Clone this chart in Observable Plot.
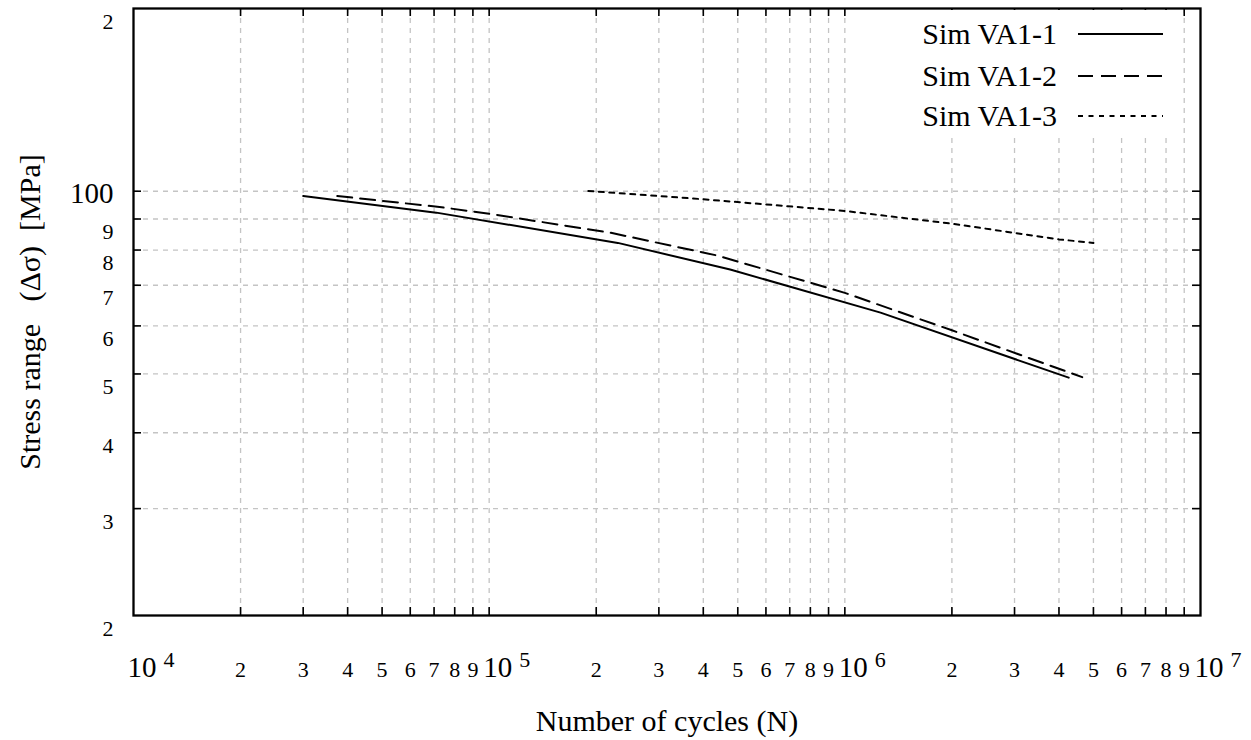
<!DOCTYPE html>
<html>
<head>
<meta charset="utf-8">
<script src="https://cdn.jsdelivr.net/npm/d3@7"></script>
<script src="https://cdn.jsdelivr.net/npm/@observablehq/plot@0.6"></script>
<style>
  html, body { margin: 0; padding: 0; background: #fff; }
  svg { display: block; }
</style>
</head>
<body>
<div id="chart"></div>
<script>
// Simulated S-N curves: number of cycles vs stress range (MPa)
const seriesNames = ["Sim VA1-1", "Sim VA1-2", "Sim VA1-3"];

const va1Cycles = [3.0e4, 7.1e4, 2.3e5, 4.76e5, 1.26e6, 4.26e6];
const va1Stress = [98.2, 92.2, 82.2, 74.3, 63.1, 49.3];

const va2Cycles = [3.74e4, 7.25e4, 1.0e5, 2.2e5, 4.4e5, 1.0e6, 2.0e6, 4.65e6];
const va2Stress = [98.2, 94.2, 91.8, 85.4, 78.3, 68.0, 59.0, 49.4];

const va3Cycles = [1.9e5, 4.0e5, 1.0e6, 2.0e6, 4.0e6, 5.0e6];
const va3Stress = [100.1, 97.0, 92.8, 88.4, 83.3, 82.2];

// Axis ticks (log scales)
const xMinorTicks = [2e4, 3e4, 4e4, 5e4, 6e4, 7e4, 8e4, 9e4,
                     2e5, 3e5, 4e5, 5e5, 6e5, 7e5, 8e5, 9e5,
                     2e6, 3e6, 4e6, 5e6, 6e6, 7e6, 8e6, 9e6];
const xMinorLabels = ["2", "3", "4", "5", "6", "7", "8", "9",
                      "2", "3", "4", "5", "6", "7", "8", "9",
                      "2", "3", "4", "5", "6", "7", "8", "9"];
const xDecadeTicks = [1e4, 1e5, 1e6, 1e7];
const xDecadeExponents = ["4", "5", "6", "7"];
const xGridTicks = [2e4, 3e4, 4e4, 5e4, 6e4, 7e4, 8e4, 9e4, 1e5,
                    2e5, 3e5, 4e5, 5e5, 6e5, 7e5, 8e5, 9e5, 1e6,
                    2e6, 3e6, 4e6, 5e6, 6e6, 7e6, 8e6, 9e6];

const yGridTicks = [30, 40, 50, 60, 70, 80, 90, 100];
const ySmallTicks = [20, 30, 40, 50, 60, 70, 80, 90, 200];
const ySmallLabels = ["2", "3", "4", "5", "6", "7", "8", "9", "2"];
const yBigTicks = [100];
const yBigLabels = ["100"];

const toRows = (xs, ys) => xs.map((n, i) => ({n, s: ys[i]}));
const va1 = toRows(va1Cycles, va1Stress);
const va2 = toRows(va2Cycles, va2Stress);
const va3 = toRows(va3Cycles, va3Stress);

const serif = "'Liberation Serif', 'Times New Roman', Times, serif";
const W = 1251, H = 740;
const mL = 133, mR = 51, mT = 8, mB = 125;
const plotW = W - mL - mR, plotH = H - mT - mB;
const tickLen = 8;
const gridStyle = {stroke: "#c4c4c4", strokeWidth: 1.3, strokeDasharray: "5,5"};
const txt = {fill: "#000", fontFamily: serif, lineAnchor: "middle"};

const chart = Plot.plot({
  width: W,
  height: H,
  marginLeft: mL,
  marginRight: mR,
  marginTop: mT,
  marginBottom: mB,
  style: {fontFamily: serif, background: "#fff", color: "#000"},
  x: {type: "log", domain: [1e4, 1e7], axis: null},
  y: {type: "log", domain: [20, 200], axis: null},
  marks: [
    // dashed grid
    Plot.ruleX(xGridTicks, {x: d => d, ...gridStyle}),
    Plot.ruleY(yGridTicks, {y: d => d, ...gridStyle}),

    // inward ticks on all sides
    Plot.tickX(xGridTicks, {x: d => d, insetTop: plotH - tickLen, stroke: "#000", strokeWidth: 1.6}),
    Plot.tickX(xGridTicks, {x: d => d, insetBottom: plotH - tickLen, stroke: "#000", strokeWidth: 1.6}),
    Plot.tickY(yGridTicks, {y: d => d, insetRight: plotW - tickLen, stroke: "#000", strokeWidth: 1.6}),
    Plot.tickY(yGridTicks, {y: d => d, insetLeft: plotW - tickLen, stroke: "#000", strokeWidth: 1.6}),

    // series
    Plot.line(va1, {x: "n", y: "s", stroke: "#000", strokeWidth: 2}),
    Plot.line(va2, {x: "n", y: "s", stroke: "#000", strokeWidth: 2, strokeDasharray: "15,8"}),
    Plot.line(va3, {x: "n", y: "s", stroke: "#000", strokeWidth: 2, strokeDasharray: "5,5.5"}),

    Plot.frame({stroke: "#000", strokeWidth: 2.3}),

    // x tick labels
    Plot.text(xMinorTicks, {x: d => d, text: (d, i) => xMinorLabels[i], frameAnchor: "bottom",
      dy: 54, fontSize: 22, ...txt}),
    Plot.text(xDecadeTicks, {x: d => d, text: () => "10", frameAnchor: "bottom",
      dy: 52, dx: -6, textAnchor: "start", fontSize: 29, ...txt}),
    Plot.text(xDecadeTicks, {x: d => d, text: (d, i) => xDecadeExponents[i], frameAnchor: "bottom",
      dy: 44, dx: 30, textAnchor: "start", fontSize: 22, ...txt}),

    // y tick labels
    Plot.text(ySmallTicks, {y: d => d, text: (d, i) => ySmallLabels[i], frameAnchor: "left",
      dx: -20, dy: 13, textAnchor: "end", fontSize: 22, ...txt}),
    Plot.text(yBigTicks, {y: d => d, text: (d, i) => yBigLabels[i], frameAnchor: "left",
      dx: -20, dy: 2, textAnchor: "end", fontSize: 29, ...txt}),

    // axis titles
    Plot.text(["Number of cycles (N)"], {text: d => d, frameAnchor: "bottom", dy: 106,
      textAnchor: "middle", fontSize: 30, ...txt}),
    Plot.text(["Stress range   (Δσ)  [MPa]"], {text: d => d, frameAnchor: "left", dx: -103,
      rotate: -90, textAnchor: "middle", fontSize: 30, ...txt})
  ]
});

// Key in the upper right corner, on an opaque background
const svg = d3.select(chart);
const key = svg.append("g").style("font-family", serif).style("font-size", "30px");
key.append("rect")
  .attr("x", 900).attr("y", mT + 2)
  .attr("width", 275).attr("height", 125)
  .attr("fill", "#fff");
const keyDash = [null, "15,8", "5,5.5"];
const keyRows = [34, 76, 116];
seriesNames.forEach((name, i) => {
  key.append("text")
    .attr("x", 1057).attr("y", keyRows[i])
    .attr("dy", "0.32em")
    .attr("text-anchor", "end")
    .attr("fill", "#000")
    .text(name);
  key.append("line")
    .attr("x1", 1078).attr("x2", 1163)
    .attr("y1", keyRows[i]).attr("y2", keyRows[i])
    .attr("stroke", "#000").attr("stroke-width", 2)
    .attr("stroke-dasharray", keyDash[i]);
});

document.getElementById("chart").append(chart);
</script>
</body>
</html>
